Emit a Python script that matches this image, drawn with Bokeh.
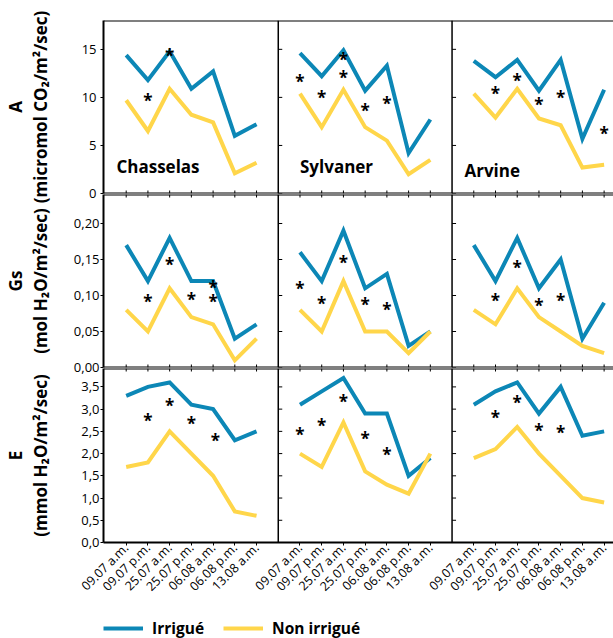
import math
from bokeh.plotting import figure
from bokeh.models import (Range1d, FixedTicker, CustomJSTickFormatter,
                          Label, Legend, LegendItem, Span)
from bokeh.layouts import column
from bokeh.embed import file_html
from bokeh.resources import INLINE
from bokeh.core.properties import value

# ---------------- data ----------------
dates = ["09.07 a.m.", "09.07 p.m.", "25.07 a.m.", "25.07 p.m.",
         "06.08 a.m.", "06.08 p.m.", "13.08 a.m."]
cultivars = ["Chasselas", "Sylvaner", "Arvine"]
series_names = ["Irrigué", "Non irrigué"]

# A (micromol CO2/m2/sec)
A_irr_chasselas = [14.4, 11.8, 14.8, 10.9, 12.7, 6.0, 7.2]
A_non_chasselas = [9.7, 6.5, 10.9, 8.2, 7.4, 2.1, 3.2]
A_irr_sylvaner = [14.6, 12.2, 14.9, 10.7, 13.3, 4.2, 7.7]
A_non_sylvaner = [10.4, 6.9, 10.8, 6.9, 5.5, 2.0, 3.5]
A_irr_arvine = [13.8, 12.1, 13.9, 10.7, 13.9, 5.7, 10.8]
A_non_arvine = [10.4, 7.9, 10.9, 7.8, 7.1, 2.7, 3.0]

# Gs (mol H2O/m2/sec)
Gs_irr_chasselas = [0.17, 0.12, 0.18, 0.12, 0.12, 0.04, 0.06]
Gs_non_chasselas = [0.08, 0.05, 0.11, 0.07, 0.06, 0.01, 0.04]
Gs_irr_sylvaner = [0.16, 0.12, 0.19, 0.11, 0.13, 0.03, 0.05]
Gs_non_sylvaner = [0.08, 0.05, 0.12, 0.05, 0.05, 0.02, 0.05]
Gs_irr_arvine = [0.17, 0.12, 0.18, 0.11, 0.15, 0.04, 0.09]
Gs_non_arvine = [0.08, 0.06, 0.11, 0.07, 0.05, 0.03, 0.02]

# E (mmol H2O/m2/sec)
E_irr_chasselas = [3.3, 3.5, 3.6, 3.1, 3.0, 2.3, 2.5]
E_non_chasselas = [1.7, 1.8, 2.5, 2.0, 1.5, 0.7, 0.6]
E_irr_sylvaner = [3.1, 3.4, 3.7, 2.9, 2.9, 1.5, 1.9]
E_non_sylvaner = [2.0, 1.7, 2.7, 1.6, 1.3, 1.1, 2.0]
E_irr_arvine = [3.1, 3.4, 3.6, 2.9, 3.5, 2.4, 2.5]
E_non_arvine = [1.9, 2.1, 2.6, 2.0, 1.5, 1.0, 0.9]

# significance stars (date index, value)
A_sig_x_chasselas = [1, 2]
A_sig_y_chasselas = [10.0, 14.7]
A_sig_x_sylvaner = [0, 1, 2, 2, 3, 4]
A_sig_y_sylvaner = [12.0, 10.3, 14.3, 12.4, 9.0, 9.65]
A_sig_x_arvine = [1, 2, 3, 4, 6]
A_sig_y_arvine = [10.75, 12.1, 9.55, 10.35, 6.6]

Gs_sig_x_chasselas = [1, 2, 3, 4, 4]
Gs_sig_y_chasselas = [0.096, 0.147, 0.099, 0.096, 0.115]
Gs_sig_x_sylvaner = [0, 1, 2, 3, 4]
Gs_sig_y_sylvaner = [0.114, 0.093, 0.150, 0.092, 0.085]
Gs_sig_x_arvine = [1, 2, 3, 4]
Gs_sig_y_arvine = [0.097, 0.143, 0.090, 0.097]

E_sig_x_chasselas = [1, 2, 3, 4.1]
E_sig_y_chasselas = [2.82, 3.14, 2.75, 2.37]
E_sig_x_sylvaner = [0, 1, 2, 3, 4]
E_sig_y_sylvaner = [2.49, 2.69, 3.25, 2.41, 2.04]
E_sig_x_arvine = [1, 2, 3, 4]
E_sig_y_arvine = [2.88, 3.21, 2.58, 2.54]

A_ticks = [0, 5, 10, 15]
Gs_ticks = [0, 0.05, 0.10, 0.15, 0.20]
E_ticks = [0, 0.5, 1.0, 1.5, 2.0, 2.5, 3.0, 3.5]

# ---------------- styling / layout ----------------
BLUE = "#0C87B6"
YELLOW = "#FFD64A"
FONT = "Open Sans"
GAP = 8          # x-units between the start of neighbouring panels
X_RANGE = (-1.045, 22.57)
FRAME_W = 513
LEFT = 100
OVERLAP = 10     # extra room below a frame so the "0" tick label is not clipped

x_idx = list(range(len(dates)))

rows_spec = [
    dict(title="A\n(micromol CO₂/m²/sec)", yr=(0, 18.0), ticks=A_ticks, dec=0,
         irr=[A_irr_chasselas, A_irr_sylvaner, A_irr_arvine],
         non=[A_non_chasselas, A_non_sylvaner, A_non_arvine],
         sx=[A_sig_x_chasselas, A_sig_x_sylvaner, A_sig_x_arvine],
         sy=[A_sig_y_chasselas, A_sig_y_sylvaner, A_sig_y_arvine],
         top=20, fh=173, bottom=OVERLAP, lab_standoff=4, title_standoff=27),
    dict(title="Gs\n(mol H₂O/m²/sec)", yr=(0, 0.2403), ticks=Gs_ticks, dec=2,
         irr=[Gs_irr_chasselas, Gs_irr_sylvaner, Gs_irr_arvine],
         non=[Gs_non_chasselas, Gs_non_sylvaner, Gs_non_arvine],
         sx=[Gs_sig_x_chasselas, Gs_sig_x_sylvaner, Gs_sig_x_arvine],
         sy=[Gs_sig_y_chasselas, Gs_sig_y_sylvaner, Gs_sig_y_arvine],
         top=1, fh=173, bottom=OVERLAP, lab_standoff=1, title_standoff=19),
    dict(title="E\n(mmol H₂O/m²/sec)", yr=(0, 3.914), ticks=E_ticks, dec=1,
         irr=[E_irr_chasselas, E_irr_sylvaner, E_irr_arvine],
         non=[E_non_chasselas, E_non_sylvaner, E_non_arvine],
         sx=[E_sig_x_chasselas, E_sig_x_sylvaner, E_sig_x_arvine],
         sy=[E_sig_y_chasselas, E_sig_y_sylvaner, E_sig_y_arvine],
         top=1, fh=174, bottom=60, lab_standoff=1, title_standoff=26),
]

name_x = [-0.45, 0.0, -0.43]
name_y = [1.6, 1.6, 1.18]

all_x = [i + GAP * c for c in range(len(cultivars)) for i in x_idx]
all_labels = [d for c in range(len(cultivars)) for d in dates]
borders = [GAP * c - 1 for c in range(1, len(cultivars))]

figs = []
last = len(rows_spec) - 1
for r, rs in enumerate(rows_spec):
    p = figure(frame_width=FRAME_W, frame_height=rs["fh"],
               x_range=Range1d(*X_RANGE), y_range=Range1d(*rs["yr"]),
               output_backend="svg", toolbar_location=None,
               x_axis_location=("below" if r == last else None),
               min_border=0, min_border_left=LEFT, min_border_right=0,
               min_border_top=rs["top"], min_border_bottom=rs["bottom"],
               outline_line_color=None)
    if r > 0:
        p.margin = (-OVERLAP, 0, 0, 0)
        p.border_fill_color = None
    p.grid.visible = False

    # left axis
    ya = p.yaxis[0]
    ya.ticker = FixedTicker(ticks=rs["ticks"])
    ya.formatter = CustomJSTickFormatter(
        code="return tick.toFixed(%d).replace('.', ',');" % rs["dec"])
    ya.minor_tick_line_color = None
    ya.axis_line_color = "black"
    ya.major_tick_line_color = "black"
    ya.axis_line_width = 2
    ya.major_tick_out = 3
    ya.major_tick_in = 0
    ya.major_label_standoff = rs["lab_standoff"]
    ya.major_label_text_font = FONT
    ya.major_label_text_font_size = "13px"
    ya.major_label_text_color = "black"
    ya.axis_label = rs["title"]
    ya.axis_label_text_font = FONT
    ya.axis_label_text_font_size = "17px"
    ya.axis_label_text_font_style = "bold"
    ya.axis_label_text_color = "black"
    ya.axis_label_text_line_height = 1.08
    ya.axis_label_standoff = rs["title_standoff"]

    n = len(all_x)
    if r == last:
        xa = p.xaxis[0]
        xa.ticker = FixedTicker(ticks=all_x)
        xa.major_label_overrides = {x: d for x, d in zip(all_x, all_labels)}
        xa.minor_tick_line_color = None
        xa.axis_line_width = 2
        xa.axis_line_color = "black"
        xa.major_tick_out = 3
        xa.major_tick_in = 0
        xa.major_label_orientation = math.pi / 4
        xa.major_label_standoff = 0
        xa.major_label_text_font = FONT
        xa.major_label_text_font_size = "12.5px"
        xa.major_label_text_color = "black"
    else:
        # bottom border with inward ticks
        p.add_layout(Span(location=rs["yr"][0], dimension="width",
                          line_color="black", line_width=2))
        p.ray(x=all_x, y=[rs["yr"][0]] * n, length=3, length_units="screen",
              angle=math.pi / 2, line_color="black", line_width=1)

    # top border (inward ticks below the row boundaries)
    p.add_layout(Span(location=rs["yr"][1], dimension="width",
                      line_color="black", line_width=2))
    if r > 0:
        p.ray(x=all_x, y=[rs["yr"][1]] * n, length=3, length_units="screen",
              angle=-math.pi / 2, line_color="black", line_width=1)

    # panel separators with inward ticks
    for b in borders:
        p.add_layout(Span(location=b, dimension="height", line_color="black",
                          line_width=1.5))
        p.ray(x=[b] * len(rs["ticks"]), y=rs["ticks"], length=4,
              length_units="screen", angle=0, line_color="black", line_width=1)

    for c in range(len(cultivars)):
        xs = [i + GAP * c for i in x_idx]
        p.line(xs, rs["irr"][c], line_color=BLUE, line_width=4, line_join="miter")
        p.line(xs, rs["non"][c], line_color=YELLOW, line_width=4, line_join="miter")
        sxs = [v + GAP * c for v in rs["sx"][c]]
        p.text(x=sxs, y=rs["sy"][c], text=["*"] * len(sxs),
               text_font=value(FONT), text_font_size="17px", text_font_style="bold",
               text_align="center", text_baseline="alphabetic", y_offset=3,
               text_color="black")
        if r == 0:
            p.add_layout(Label(x=name_x[c] + GAP * c, y=name_y[c], text=cultivars[c],
                               text_font=FONT, text_font_size="17px",
                               text_font_style="bold", text_color="black"))
    figs.append(p)

# legend strip (its frame is aligned with the panels' frames by the column)
lg = figure(width=613, frame_height=22, output_backend="svg", toolbar_location=None,
            min_border=0, min_border_top=14, outline_line_color=None,
            x_range=Range1d(0, 1), y_range=Range1d(0, 1),
            x_axis_location=None, y_axis_location=None)
lg.grid.visible = False
r1 = lg.line(x=[float("nan")], y=[float("nan")], line_color=BLUE, line_width=4)
r2 = lg.line(x=[float("nan")], y=[float("nan")], line_color=YELLOW, line_width=4)
legend = Legend(items=[LegendItem(label=series_names[0], renderers=[r1]),
                       LegendItem(label=series_names[1], renderers=[r2])],
                orientation="horizontal", location="left", glyph_width=40,
                glyph_height=16, label_text_font=FONT, label_text_font_size="15.5px",
                label_text_font_style="bold", label_text_color="black",
                label_standoff=9, spacing=19, padding=0, margin=0,
                border_line_color=None, background_fill_alpha=0)
lg.add_layout(legend)

layout = column(*figs, lg)
open("out.html", "w").write(file_html(layout, INLINE))
